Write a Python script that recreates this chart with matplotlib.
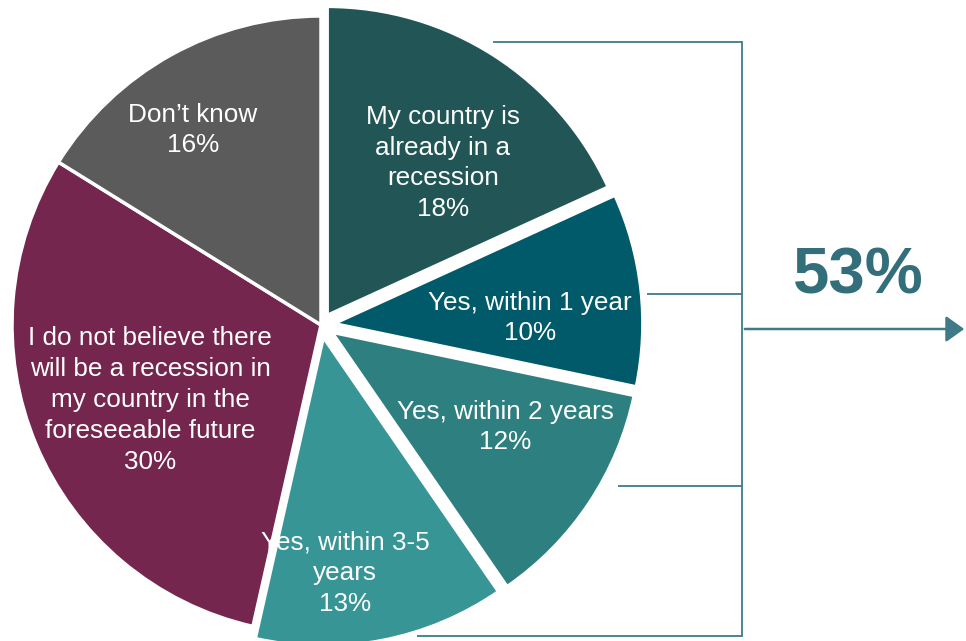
import matplotlib
matplotlib.use("Agg")
import matplotlib.pyplot as plt
from matplotlib.patches import FancyArrowPatch

# Survey responses: expected timing of a recession
categories = [
    "My country is\nalready in a\nrecession",
    "Yes, within 1 year",
    "Yes, within 2 years",
    "Yes, within 3-5\nyears",
    "I do not believe there\nwill be a recession in\nmy country in the\nforeseeable future",
    "Don\u2019t know",
]
shares = [18, 10, 12, 13, 30, 16]
colors = ["#215556", "#015A69", "#2E7F7F", "#389596", "#74264E", "#5B5B5B"]
explode = [0.037, 0.042, 0.042, 0.04, 0.0, 0.0]
yes_total_label = "53%"

W, H = 966, 641
fig = plt.figure(figsize=(W / 100, H / 100), dpi=100)
ax = fig.add_axes([0, 0, 1, 1])
plt.rcParams["font.family"] = ["Liberation Sans", "DejaVu Sans"]

cx, cy, R = 321, H - 325, 309
wedges, _ = ax.pie(
    shares, colors=colors, startangle=90, counterclock=False,
    explode=[e * R for e in explode], center=(cx, cy), radius=R,
    wedgeprops=dict(edgecolor="white", linewidth=2.5),
)

# label anchors (pixel coordinates, measured from the top-left)
label_px = [(443, 163), (530, 318), (505, 427), (345, 573), (150, 400), (193, 130)]
for cat, val, (px, py) in zip(categories, shares, label_px):
    ax.text(px, H - py, f"{cat}\n{val}%", ha="center", va="center",
            color="white", fontsize=18.8, linespacing=1.36,
            family=["Liberation Sans", "DejaVu Sans"])

# bracket grouping the "yes" answers
line_c = "#3F7A88"
bx = 742
stubs = [(493, 42), (647, 294), (618, 486), (417, 636)]
for sx, sy in stubs:
    ax.plot([sx, bx], [H - sy, H - sy], color=line_c, lw=1.3, solid_capstyle="butt")
ax.plot([bx, bx], [H - 42, H - 636], color=line_c, lw=1.3)
arrow = FancyArrowPatch((bx, H - 329), (967, H - 329), arrowstyle="-|>,head_length=7,head_width=5",
                        color=line_c, lw=1.8, mutation_scale=1.6)
ax.add_patch(arrow)

ax.text(858, H - 276, yes_total_label, ha="center", va="center", color="#336E7B",
        fontsize=47, fontweight="bold", family=["Liberation Sans", "DejaVu Sans"])

ax.set_xlim(0, W)
ax.set_ylim(0, H)
ax.set_aspect("equal")
ax.axis("off")
fig.savefig("out.png", dpi=100, facecolor="white")
